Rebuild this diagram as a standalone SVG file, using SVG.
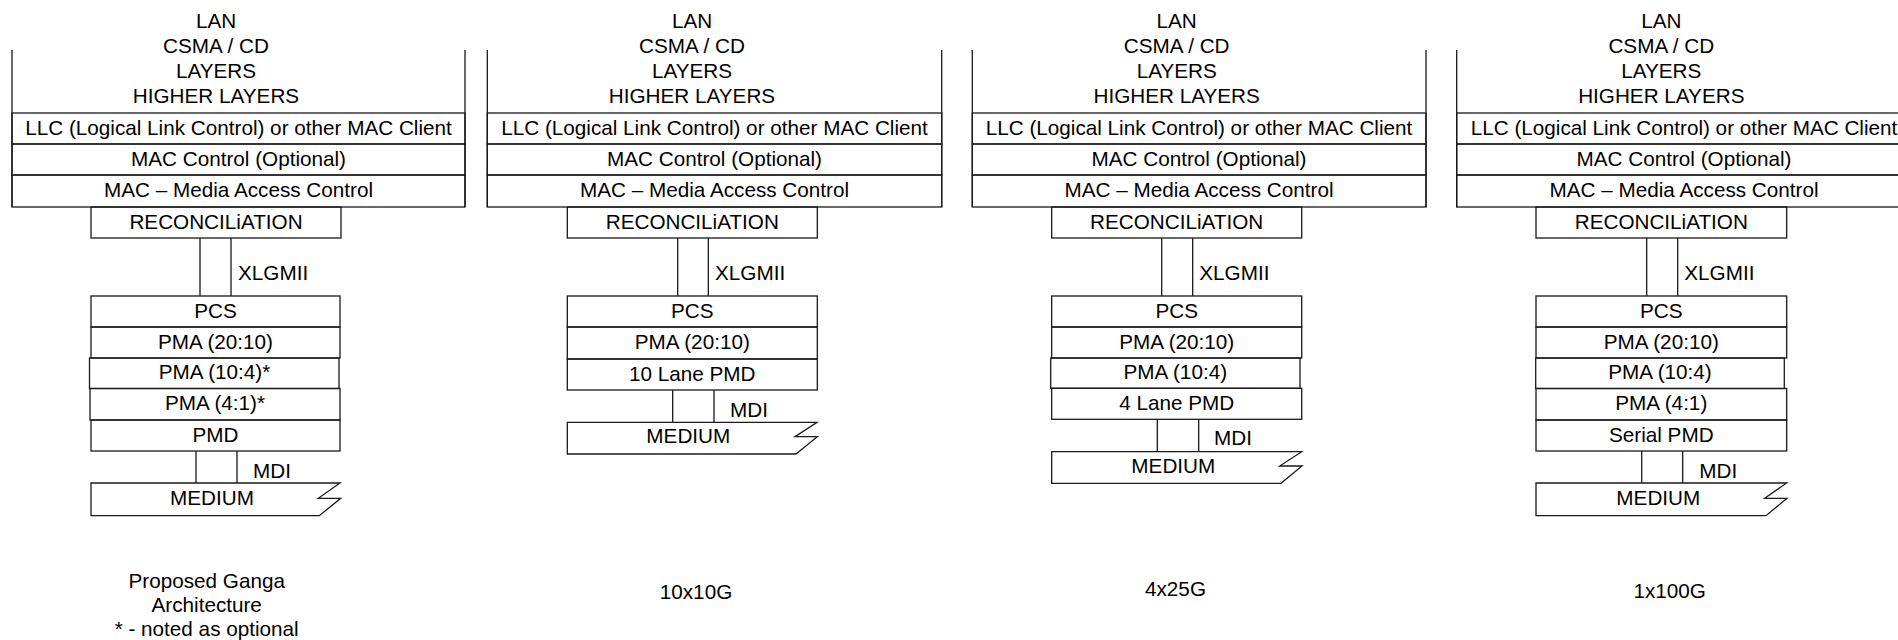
<svg xmlns="http://www.w3.org/2000/svg" width="1898" height="640" viewBox="0 0 1898 640">
<style>
.s{fill:none;stroke:#1a1a1a;stroke-width:1.3}
text{font-family:"Liberation Sans",Arial,sans-serif;font-size:20.7px;fill:#000}
.c{text-anchor:middle}
</style>
<rect width="1898" height="640" fill="#fff"/>

<!-- Panel 1 -->
<g id="p1-higher">
<path class="s" d="M12,50V207M465,50V207"/>
<text class="c" x="216" y="28">LAN</text>
<text class="c" x="216" y="53">CSMA / CD</text>
<text class="c" x="216" y="78">LAYERS</text>
<text class="c" x="216" y="103">HIGHER LAYERS</text>
</g>
<g id="p1-llc"><rect class="s" x="12" y="113" width="453" height="31"/><text class="c" x="238.5" y="135">LLC (Logical Link Control) or other MAC Client</text></g>
<g id="p1-macctl"><rect class="s" x="12" y="144" width="453" height="31"/><text class="c" x="238.5" y="166">MAC Control (Optional)</text></g>
<g id="p1-mac"><rect class="s" x="12" y="175" width="453" height="32"/><text class="c" x="238.5" y="197">MAC – Media Access Control</text></g>
<g id="p1-recon"><rect class="s" x="91" y="207" width="250" height="31"/><text class="c" x="216" y="229">RECONCILiATION</text></g>
<g id="p1-pcs"><rect class="s" x="91" y="296" width="249" height="31"/><text class="c" x="215.5" y="317.5">PCS</text></g>
<g id="p1-pma1"><rect class="s" x="91" y="327" width="249" height="31"/><text class="c" x="215.5" y="348.5">PMA (20:10)</text></g>
<g id="p1-pma2"><rect class="s" x="89.5" y="358" width="249.5" height="30.5"/><text class="c" x="214.5" y="379">PMA (10:4)*</text></g>
<g id="p1-pma3"><rect class="s" x="90" y="388.5" width="250" height="31.5"/><text class="c" x="215" y="410">PMA (4:1)*</text></g>
<g id="p1-pmd"><rect class="s" x="91" y="420" width="249" height="31"/><text class="c" x="215.5" y="441.5">PMD</text></g>
<g id="p1-medium"><path class="s" d="M91,483H340L318.3,498.3H340.7L319.3,515.7H91Z"/><text class="c" x="212" y="505">MEDIUM</text></g>
<g id="p1-caption">
<text class="c" x="206.7" y="588">Proposed Ganga</text>
<text class="c" x="206.7" y="612">Architecture</text>
<text class="c" x="206.7" y="636">* - noted as optional</text>
</g>

<!-- Panel 2 -->
<g id="p2-higher">
<path class="s" d="M487.3,50V207M941.7,50V207"/>
<text class="c" x="692" y="28">LAN</text>
<text class="c" x="692" y="53">CSMA / CD</text>
<text class="c" x="692" y="78">LAYERS</text>
<text class="c" x="692" y="103">HIGHER LAYERS</text>
</g>
<g id="p2-llc"><rect class="s" x="487.3" y="113" width="454.4" height="31"/><text class="c" x="714.5" y="135">LLC (Logical Link Control) or other MAC Client</text></g>
<g id="p2-macctl"><rect class="s" x="487.3" y="144" width="454.4" height="31"/><text class="c" x="714.5" y="166">MAC Control (Optional)</text></g>
<g id="p2-mac"><rect class="s" x="487.3" y="175" width="454.4" height="32"/><text class="c" x="714.5" y="197">MAC – Media Access Control</text></g>
<g id="p2-recon"><rect class="s" x="567.3" y="207" width="250" height="31"/><text class="c" x="692.3" y="229">RECONCILiATION</text></g>
<g id="p2-pcs"><rect class="s" x="567.3" y="296" width="250" height="31"/><text class="c" x="692.3" y="317.5">PCS</text></g>
<g id="p2-pma1"><rect class="s" x="567.3" y="327" width="250" height="32"/><text class="c" x="692.3" y="349">PMA (20:10)</text></g>
<g id="p2-pmd"><rect class="s" x="567.3" y="359" width="250" height="31"/><text class="c" x="692.3" y="380.5">10 Lane PMD</text></g>
<g id="p2-medium"><path class="s" d="M567.3,422.3H817L795,436.7H817.3L796,454H567.3Z"/><text class="c" x="688.3" y="443">MEDIUM</text></g>
<g id="p2-caption"><text class="c" x="696" y="599">10x10G</text></g>

<!-- Panel 3 -->
<g id="p3-higher">
<path class="s" d="M972.3,50V207M1426,50V207"/>
<text class="c" x="1176.7" y="28">LAN</text>
<text class="c" x="1176.7" y="53">CSMA / CD</text>
<text class="c" x="1176.7" y="78">LAYERS</text>
<text class="c" x="1176.7" y="103">HIGHER LAYERS</text>
</g>
<g id="p3-llc"><rect class="s" x="972.3" y="113" width="453.7" height="31"/><text class="c" x="1199" y="135">LLC (Logical Link Control) or other MAC Client</text></g>
<g id="p3-macctl"><rect class="s" x="972.3" y="144" width="453.7" height="31"/><text class="c" x="1199" y="166">MAC Control (Optional)</text></g>
<g id="p3-mac"><rect class="s" x="972.3" y="175" width="453.7" height="32"/><text class="c" x="1199" y="197">MAC – Media Access Control</text></g>
<g id="p3-recon"><rect class="s" x="1051.7" y="207" width="250" height="31"/><text class="c" x="1176.7" y="229">RECONCILiATION</text></g>
<g id="p3-pcs"><rect class="s" x="1051.7" y="296" width="250" height="31"/><text class="c" x="1176.7" y="317.5">PCS</text></g>
<g id="p3-pma1"><rect class="s" x="1051.7" y="327" width="250" height="31"/><text class="c" x="1176.7" y="348.5">PMA (20:10)</text></g>
<g id="p3-pma2"><rect class="s" x="1050.7" y="358" width="249.3" height="30.3"/><text class="c" x="1175.3" y="379">PMA (10:4)</text></g>
<g id="p3-pmd"><rect class="s" x="1051.7" y="388.3" width="250" height="31"/><text class="c" x="1176.7" y="409.8">4 Lane PMD</text></g>
<g id="p3-medium"><path class="s" d="M1051.7,451.7H1301.7L1279.7,466H1302L1281,483.3H1051.7Z"/><text class="c" x="1173.3" y="473">MEDIUM</text></g>
<g id="p3-caption"><text class="c" x="1175.5" y="595.7">4x25G</text></g>

<!-- Panel 4 -->
<g id="p4-higher">
<path class="s" d="M1456.7,50V207M1911,50V207"/>
<text class="c" x="1661.3" y="28">LAN</text>
<text class="c" x="1661.3" y="53">CSMA / CD</text>
<text class="c" x="1661.3" y="78">LAYERS</text>
<text class="c" x="1661.3" y="103">HIGHER LAYERS</text>
</g>
<g id="p4-llc"><rect class="s" x="1456.7" y="113" width="454.3" height="31"/><text class="c" x="1684" y="135">LLC (Logical Link Control) or other MAC Client</text></g>
<g id="p4-macctl"><rect class="s" x="1456.7" y="144" width="454.3" height="31"/><text class="c" x="1684" y="166">MAC Control (Optional)</text></g>
<g id="p4-mac"><rect class="s" x="1456.7" y="175" width="454.3" height="32"/><text class="c" x="1684" y="197">MAC – Media Access Control</text></g>
<g id="p4-recon"><rect class="s" x="1536" y="207" width="250.7" height="31"/><text class="c" x="1661.3" y="229">RECONCILiATION</text></g>
<g id="p4-pcs"><rect class="s" x="1536" y="296" width="250.7" height="31"/><text class="c" x="1661.3" y="317.5">PCS</text></g>
<g id="p4-pma1"><rect class="s" x="1536" y="327" width="250.7" height="31"/><text class="c" x="1661.3" y="348.5">PMA (20:10)</text></g>
<g id="p4-pma2"><rect class="s" x="1535.7" y="358" width="248.6" height="30.5"/><text class="c" x="1660" y="379">PMA (10:4)</text></g>
<g id="p4-pma3"><rect class="s" x="1536" y="388.5" width="250.7" height="31.5"/><text class="c" x="1661.3" y="410">PMA (4:1)</text></g>
<g id="p4-pmd"><rect class="s" x="1536" y="420" width="250.7" height="31"/><text class="c" x="1661.3" y="441.5">Serial PMD</text></g>
<g id="p4-medium"><path class="s" d="M1536,483H1786.7L1764.7,498.3H1787L1766,515.7H1536Z"/><text class="c" x="1658.3" y="505">MEDIUM</text></g>
<g id="p4-caption"><text class="c" x="1669.7" y="598.3">1x100G</text></g>

<!-- Connectors -->
<g id="connectors">
<path class="s" d="M200,238V296M231,238V296M196,451V483M237,451V483"/>
<path class="s" d="M677.7,238V296M708.3,238V296M672.7,390V422.3M714,390V422.3"/>
<path class="s" d="M1161.7,238V296M1192.7,238V296M1157.3,419.3V451.7M1198.7,419.3V451.7"/>
<path class="s" d="M1646.7,238V296M1677.7,238V296M1641.7,451V483M1682.7,451V483"/>
<text x="238" y="280">XLGMII</text>
<text x="253" y="478">MDI</text>
<text x="715" y="280">XLGMII</text>
<text x="730" y="417">MDI</text>
<text x="1199.3" y="280">XLGMII</text>
<text x="1214" y="445">MDI</text>
<text x="1684.3" y="280">XLGMII</text>
<text x="1699.3" y="478">MDI</text>
</g>
</svg>
